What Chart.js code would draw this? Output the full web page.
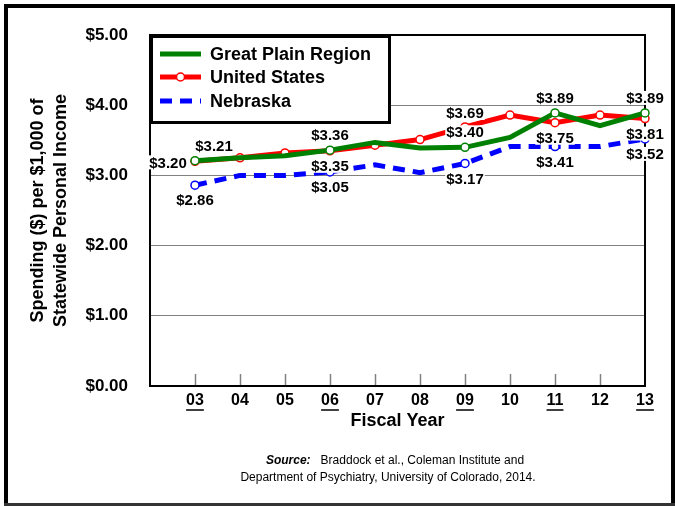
<!DOCTYPE html>
<html>
<head>
<meta charset="utf-8">
<script src="https://cdn.jsdelivr.net/npm/chart.js@4.4.1/dist/chart.umd.min.js"></script>
<style>
  body { margin: 0; background: #fff; }
  canvas { display: block; }
</style>
</head>
<body>
<canvas id="myChart" width="675" height="506"></canvas>
<script>
// fiscal years (first slot is an empty category at the left edge)
var years = ["", "03", "04", "05", "06", "07", "08", "09", "10", "11", "12", "13"];
var greatPlain = [null, 3.21, 3.25, 3.28, 3.36, 3.47, 3.39, 3.40, 3.54, 3.89, 3.71, 3.89];
var unitedStates = [null, 3.20, 3.25, 3.32, 3.35, 3.43, 3.51, 3.69, 3.86, 3.75, 3.86, 3.81];
var nebraska = [null, 2.86, 3.00, 3.00, 3.05, 3.15, 3.04, 3.17, 3.41, 3.41, 3.41, 3.52];
var labeledYears = ["03", "06", "09", "11", "13"];
var yTicks = [0, 1, 2, 3, 4, 5];

var FONT = "'Liberation Sans', Arial, sans-serif";

function markerRadius(r) {
  return years.map(function (y) { return labeledYears.indexOf(y) >= 0 ? r : 0; });
}

// where each value label sits relative to its point
var labelPos = {
  0: { def: { dx: 0, dy: -15 }, "03": { dx: 19, dy: -15 } },
  1: { def: { dx: 0, dy: 15 }, "03": { dx: -27, dy: 1 }, "09": { dx: 0, dy: -14 } },
  2: { def: { dx: 0, dy: 15 } }
};

var chartDecor = {
  id: "chartDecor",
  beforeDatasetsDraw: function (chart) {
    var ctx = chart.ctx, a = chart.chartArea, xs = chart.scales.x;
    ctx.save();
    // small inside tick marks
    ctx.strokeStyle = "#808080";
    ctx.lineWidth = 1.5;
    for (var i = 1; i < years.length - 1; i++) {
      var x = Math.round(xs.getPixelForValue(i)) + 0.5;
      ctx.beginPath();
      ctx.moveTo(x, a.bottom);
      ctx.lineTo(x, a.bottom - 12);
      ctx.stroke();
    }
    // plot frame
    ctx.strokeStyle = "#000";
    ctx.lineWidth = 2;
    ctx.strokeRect(a.left, a.top, a.right - a.left, a.bottom - a.top);
    ctx.restore();
  },
  afterDatasetsDraw: function (chart) {
    var ctx = chart.ctx, a = chart.chartArea;
    ctx.save();
    // value labels at highlighted years
    ctx.font = "bold 15px " + FONT;
    ctx.textAlign = "center";
    ctx.textBaseline = "middle";
    chart.data.datasets.forEach(function (ds, di) {
      var meta = chart.getDatasetMeta(di);
      years.forEach(function (yr, i) {
        if (labeledYears.indexOf(yr) < 0) return;
        var pt = meta.data[i];
        var p = labelPos[di][yr] || labelPos[di].def;
        var txt = "$" + ds.data[i].toFixed(2);
        var w = ctx.measureText(txt).width;
        var cx = pt.x + p.dx, cy = pt.y + p.dy;
        ctx.fillStyle = "#fff";
        ctx.fillRect(cx - w / 2 - 1, cy - 7, w + 2, 14);
        ctx.fillStyle = "#000";
        ctx.fillText(txt, cx, cy + 1);
      });
    });

    // legend box
    var lx = a.left + 1.5, ly = a.top + 1.5, lw = 238, lh = 86;
    ctx.fillStyle = "#fff";
    ctx.fillRect(lx, ly, lw, lh);
    ctx.strokeStyle = "#000";
    ctx.lineWidth = 3;
    ctx.strokeRect(lx, ly, lw, lh);
    ctx.font = "bold 18px " + FONT;
    ctx.textAlign = "left";
    var rows = [54, 77, 101];
    chart.data.datasets.forEach(function (ds, di) {
      var ry = rows[di];
      ctx.strokeStyle = ds.borderColor;
      ctx.lineWidth = 5;
      ctx.setLineDash(ds.borderDash || []);
      ctx.beginPath();
      ctx.moveTo(160, ry);
      ctx.lineTo(201, ry);
      ctx.stroke();
      ctx.setLineDash([]);
      if (di === 1) {
        ctx.beginPath();
        ctx.arc(180.5, ry, 4, 0, Math.PI * 2);
        ctx.fillStyle = "#fff";
        ctx.fill();
        ctx.lineWidth = 1.5;
        ctx.strokeStyle = ds.borderColor;
        ctx.stroke();
      }
      ctx.fillStyle = "#000";
      ctx.fillText(ds.label, 210, ry + 1);
    });
    ctx.restore();
  },
  afterDraw: function (chart) {
    var ctx = chart.ctx, a = chart.chartArea, xs = chart.scales.x;
    ctx.save();
    ctx.fillStyle = "#000";
    // underline the highlighted years
    ctx.font = "bold 16px " + FONT;
    ctx.lineWidth = 1.5;
    ctx.strokeStyle = "#000";
    years.forEach(function (yr, i) {
      if (labeledYears.indexOf(yr) < 0) return;
      var x = xs.getPixelForValue(i);
      var w = ctx.measureText(yr).width;
      ctx.beginPath();
      ctx.moveTo(x - w / 2, 410);
      ctx.lineTo(x + w / 2, 410);
      ctx.stroke();
    });

    // axis titles
    ctx.textAlign = "center";
    ctx.textBaseline = "middle";
    ctx.font = "bold 18px " + FONT;
    ctx.fillText("Fiscal Year", (a.left + a.right) / 2, 421);
    var my = (a.top + a.bottom) / 2;
    [["Spending ($) per $1,000 of", 38], ["Statewide Personal Income", 61]].forEach(function (t) {
      ctx.save();
      ctx.translate(t[1], my);
      ctx.rotate(-Math.PI / 2);
      ctx.fillText(t[0], 0, 0);
      ctx.restore();
    });

    // source note
    ctx.textAlign = "left";
    var s1 = "Source:", s2 = "   Braddock et al., Coleman Institute and";
    ctx.font = "italic bold 12px " + FONT;
    var w1 = ctx.measureText(s1).width;
    ctx.font = "12px " + FONT;
    var w2 = ctx.measureText(s2).width;
    var sx = 395 - (w1 + w2) / 2;
    ctx.font = "italic bold 12px " + FONT;
    ctx.fillText(s1, sx, 461);
    ctx.font = "12px " + FONT;
    ctx.fillText(s2, sx + w1, 461);
    ctx.textAlign = "center";
    ctx.fillText("Department of Psychiatry, University of Colorado, 2014.", 388, 478);

    // outer frame
    ctx.fillStyle = "#000";
    ctx.fillRect(4, 4, 671, 4);
    ctx.fillRect(4, 4, 4, 502);
    ctx.fillRect(671, 4, 4, 502);
    ctx.fillStyle = "#333";
    ctx.fillRect(4, 503, 671, 3);
    ctx.restore();
  }
};

new Chart("myChart", {
  type: "line",
  data: {
    labels: years,
    datasets: [
      {
        label: "Great Plain Region",
        data: greatPlain,
        borderColor: "#008000",
        borderWidth: 5,
        pointRadius: markerRadius(4),
        pointBackgroundColor: "#fff",
        pointBorderColor: "#008000",
        pointBorderWidth: 1.5,
        order: 0,
        clip: false
      },
      {
        label: "United States",
        data: unitedStates,
        borderColor: "#ff0000",
        borderWidth: 5,
        pointRadius: 4,
        pointBackgroundColor: "#fff",
        pointBorderColor: "#ff0000",
        pointBorderWidth: 1.5,
        order: 1,
        clip: false
      },
      {
        label: "Nebraska",
        data: nebraska,
        borderColor: "#0000ff",
        borderWidth: 5,
        borderDash: [12, 8],
        pointRadius: markerRadius(4),
        pointBackgroundColor: "#fff",
        pointBorderColor: "#0000ff",
        pointBorderWidth: 1.5,
        order: 2,
        clip: false
      }
    ]
  },
  options: {
    responsive: false,
    animation: false,
    devicePixelRatio: 1,
    layout: { padding: { top: 35, right: 30, left: 0, bottom: 0 } },
    plugins: {
      legend: { display: false },
      tooltip: { enabled: false }
    },
    scales: {
      x: {
        type: "category",
        offset: false,
        grid: { display: false, drawTicks: false },
        border: { display: false },
        ticks: {
          color: "#000",
          font: { family: FONT, size: 16, weight: "bold" },
          padding: 5,
          maxRotation: 0,
          autoSkip: false
        },
        afterFit: function (s) { s.height = 120; }
      },
      y: {
        min: 0,
        max: 5,
        afterBuildTicks: function (s) { s.ticks = yTicks.map(function (v) { return { value: v }; }); },
        grid: { color: "#808080", lineWidth: 1, drawTicks: false },
        border: { display: false },
        ticks: {
          color: "#000",
          font: { family: FONT, size: 17, weight: "bold" },
          padding: 22,
          callback: function (v) { return "$" + Number(v).toFixed(2); }
        },
        afterFit: function (s) { s.width = 150; }
      }
    }
  },
  plugins: [chartDecor]
});
</script>
</body>
</html>
